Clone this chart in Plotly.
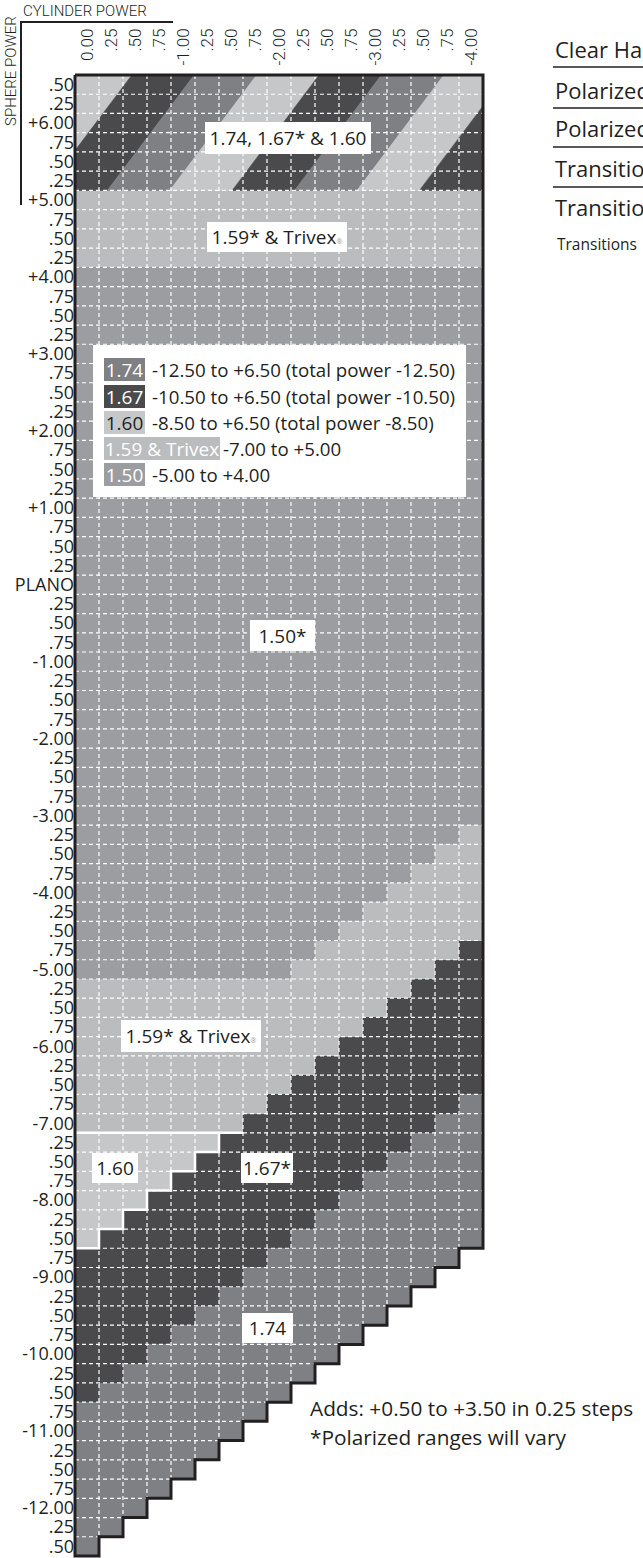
import re
import plotly.graph_objects as go

# ---------------- data ----------------
CYL_LABELS = ["0.00", ".25", ".50", ".75", "-1.00", ".25", ".50", ".75", "-2.00",
              ".25", ".50", ".75", "-3.00", ".25", ".50", ".75", "-4.00"]

SPHERE_LABELS = [".50", ".25", "+6.00", ".75", ".50", ".25",
                 "+5.00", ".75", ".50", ".25", "+4.00", ".75", ".50", ".25",
                 "+3.00", ".75", ".50", ".25", "+2.00", ".75", ".50", ".25",
                 "+1.00", ".75", ".50", ".25", "PLANO", ".25", ".50", ".75",
                 "-1.00", ".25", ".50", ".75", "-2.00", ".25", ".50", ".75",
                 "-3.00", ".25", ".50", ".75", "-4.00", ".25", ".50", ".75",
                 "-5.00", ".25", ".50", ".75", "-6.00", ".25", ".50", ".75",
                 "-7.00", ".25", ".50", ".75", "-8.00", ".25", ".50", ".75",
                 "-9.00", ".25", ".50", ".75", "-10.00", ".25", ".50", ".75",
                 "-11.00", ".25", ".50", ".75", "-12.00", ".25", ".50"]

# material runs per sphere row (A=1.50, B=1.59/Trivex, C=1.60, D=1.67, E=1.74,
# S=striped 1.74/1.67/1.60 band, .=not available)
ROW_RUNS = (["17S"] * 6 + ["17B"] * 4 + ["17A"] * 29 + [
    "16A1B", "15A2B", "14A3B", "13A4B", "12A5B", "11A6B", "10A6B1D", "9A6B2D",
    "14B3D", "13B4D", "12B5D", "11B6D", "10B7D", "9B8D", "8B8D1E", "7B8D2E",
    "6C8D3E", "5C8D4E", "4C8D5E", "3C8D6E", "2C8D7E", "1C8D8E",
    "8D8E1.", "7D8E2.", "6D8E3.", "5D8E4.", "4D8E5.", "3D8E6.", "2D8E7.", "1D8E8.",
    "8E9.", "7E10.", "6E11.", "5E12.", "4E13.", "3E14.", "2E15.", "1E16."])

CODES = ["A", "B", "C", "D", "E"]
MATERIALS = ["1.50", "1.59", "1.60", "1.67", "1.74"]
STRIPE_ORDER = ["1.60", "1.67", "1.74"]

REGION_LABELS = ["1.74, 1.67* & 1.60", "1.59* & Trivex", "1.50*", "1.59* & Trivex",
                 "1.60", "1.67*", "1.74"]
LEGEND_MATS = ["1.74", "1.67", "1.60", "1.59 & Trivex", "1.50"]
LEGEND_RANGES = ["-12.50 to +6.50 (total power -12.50)",
                 "-10.50 to +6.50 (total power -10.50)",
                 "-8.50 to +6.50 (total power -8.50)",
                 "-7.00 to +5.00",
                 "-5.00 to +4.00"]
SIDE_LIST = ["Clear Hard Resin", "Polarized Gray", "Polarized Brown",
             "Transitions Gray", "Transitions Brown"]
SIDE_NOTE = "Transitions   available in gray and brown"
NOTES = ["Adds: +0.50 to +3.50 in 0.25 steps", "*Polarized ranges will vary"]

# ---------------- styles ----------------
MAT_COLOR = {"1.50": "#9c9da0", "1.59": "#bbbcbe", "1.60": "#c6c7c9",
             "1.67": "#4a4a4d", "1.74": "#7e8083"}
SWATCH_COLOR = {"1.74": "#7e8083", "1.67": "#4a4a4d", "1.60": "#c6c7c9",
                "1.59 & Trivex": "#bbbcbe", "1.50": "#9c9da0"}
SWATCH_FONT = {"1.74": "white", "1.67": "white", "1.60": "#231f20",
               "1.59 & Trivex": "white", "1.50": "white"}
INK = "#231f20"
MAIN_FONT = "Open Sans, Noto Sans, sans-serif"
NARROW_FONT = "Roboto, Liberation Sans, sans-serif"

W, H = 643, 1558
NCOL, NROW = len(CYL_LABELS), len(SPHERE_LABELS)
GX0, GY0 = 75, 75           # grid top-left in px
CW = 24.0                   # column width px
GH = 1481.0
RH = GH / NROW              # row height px
PADL, PADT, PADR, PADB = 4, 4, 4, 2
PL = GX0 - PADL
PT = GY0 - PADT
PW = NCOL * CW + PADL + PADR
PH = GH + PADT + PADB


def dx(p):
    return (p - GX0) / CW


def dy(p):
    return (p - GY0) / RH


def paper_x(p):
    return (p - PL) / PW


def paper_y(p):
    return 1 - (p - PT) / PH


# ---------------- build grid ----------------
grid = []
for r in ROW_RUNS:
    row = []
    for n, code in re.findall(r"(\d+)([A-Z.])", r):
        row += [code] * int(n)
    grid.append(row)

z = [[CODES.index(c) if c in CODES else None for c in row] for row in grid]
lengths = [sum(1 for c in row if c != ".") for row in grid]

cs = []
n = len(MATERIALS)
for i, m in enumerate(MATERIALS):
    a, b = i / n, (i + 1) / n
    cs += [[a, MAT_COLOR[m]], [b, MAT_COLOR[m]]]

fig = go.Figure()
fig.add_trace(go.Heatmap(
    z=z, x=[c + 0.5 for c in range(NCOL)], y=[r + 0.5 for r in range(NROW)],
    colorscale=cs, zmin=-0.5, zmax=n - 0.5, showscale=False, hoverinfo="skip"))

# ---------------- striped band ----------------
n_stripe_rows = sum(1 for row in grid if row[0] == "S")
STRIPE_W = 2.6      # columns
STRIPE_B0 = 2.37    # first boundary at top edge (columns)
STRIPE_SKEW = 3.62  # horizontal shift across band (columns)


def clip(poly, x0, keep_greater):
    out = []
    for i in range(len(poly)):
        P, Q = poly[i], poly[(i + 1) % len(poly)]
        inP = P[0] >= x0 if keep_greater else P[0] <= x0
        inQ = Q[0] >= x0 if keep_greater else Q[0] <= x0
        if inP:
            out.append(P)
        if inP != inQ:
            t = (x0 - P[0]) / (Q[0] - P[0])
            out.append((x0, P[1] + t * (Q[1] - P[1])))
    return out


for k in range(0, 12):
    xl = STRIPE_B0 + (k - 1) * STRIPE_W
    xr = STRIPE_B0 + k * STRIPE_W
    poly = [(xl, 0), (xr, 0), (xr - STRIPE_SKEW, n_stripe_rows), (xl - STRIPE_SKEW, n_stripe_rows)]
    poly = clip(poly, 0, True)
    if len(poly) >= 3:
        poly = clip(poly, NCOL, False)
    if len(poly) < 3:
        continue
    col = MAT_COLOR[STRIPE_ORDER[k % 3]]
    fig.add_trace(go.Scatter(
        x=[p[0] for p in poly] + [poly[0][0]], y=[p[1] for p in poly] + [poly[0][1]],
        mode="lines", fill="toself", fillcolor=col, line=dict(color=col, width=0.6),
        hoverinfo="skip", showlegend=False))

# ---------------- dashed white grid ----------------
gx, gy = [], []
for j in range(1, NROW):
    e = min(lengths[j - 1], lengths[j])
    gx += [0, e, None]
    gy += [j, j, None]
for c in range(1, NCOL):
    end = 0
    while end < NROW and lengths[end] > c:
        end += 1
    gx += [c, c, None]
    gy += [0, end, None]
fig.add_trace(go.Scatter(x=gx, y=gy, mode="lines",
                         line=dict(color="white", width=1.2, dash="4px,3px"),
                         hoverinfo="skip", showlegend=False))

# ---------------- white outline of the 1.60 block ----------------
rows_c = [i for i, row in enumerate(grid) if "C" in row]
first, last = rows_c[0], rows_c[-1]
above = grid[first - 1]
nb = max(i for i, c in enumerate(above) if c == "B") + 1
wx, wy = [0, nb, None], [first, first, None]
for i in rows_c:
    nc = grid[i].count("C")
    wx += [nc, nc]
    wy += [i, i + 1]
wx += [0]
wy += [last + 1]
fig.add_trace(go.Scatter(x=wx, y=wy, mode="lines", line=dict(color="white", width=2.5),
                         hoverinfo="skip", showlegend=False))

# ---------------- black outline ----------------
bx, by = [0], [0]
for i, L in enumerate(lengths):
    bx += [L, L]
    by += [i, i + 1]
bx += [0, 0]
by += [NROW, 0]
fig.add_trace(go.Scatter(x=bx, y=by, mode="lines", line=dict(color=INK, width=3),
                         hoverinfo="skip", showlegend=False))

annotations = []
shapes = []

# column labels (rotated)
for c, lab in enumerate(CYL_LABELS):
    annotations.append(dict(x=c + 0.5, xref="x", y=paper_y(27), yref="paper",
                            text=lab, showarrow=False, textangle=-90,
                            xanchor="center", yanchor="top",
                            font=dict(family=NARROW_FONT, size=17, color=INK, weight=300)))

# header
annotations.append(dict(x=paper_x(21), y=paper_y(11), xref="paper", yref="paper",
                        text="CYLINDER POWER", showarrow=False, xanchor="left", yanchor="middle",
                        font=dict(family=NARROW_FONT, size=15, color=INK, weight=300)))
annotations.append(dict(x=paper_x(11), y=paper_y(71), xref="paper", yref="paper",
                        text="SPHERE POWER", showarrow=False, textangle=-90,
                        xanchor="center", yanchor="middle",
                        font=dict(family=NARROW_FONT, size=15, color=INK, weight=300)))
shapes.append(dict(type="line", xref="paper", yref="paper", x0=paper_x(21), x1=paper_x(173),
                   y0=paper_y(22), y1=paper_y(22), line=dict(color=INK, width=2)))
shapes.append(dict(type="line", xref="paper", yref="paper", x0=paper_x(21), x1=paper_x(21),
                   y0=paper_y(21), y1=paper_y(205), line=dict(color=INK, width=2)))

# region labels
REG_POS = [(288, 138, 166, 32), (277, 237, 140, 30), (282, 635, 65, 31),
           (191, 1036, 140, 32), (115, 1168, 46, 30), (267, 1168, 52, 30),
           (267.5, 1328, 51, 30)]
for lab, (cx, cy, bw, bh) in zip(REGION_LABELS, REG_POS):
    txt = lab
    if lab.endswith("Trivex"):
        txt = lab + "<span style='font-size:7px;fill:#9a9a9a'>®</span>"
    annotations.append(dict(x=dx(cx), y=dy(cy), xref="x", yref="y", text=txt,
                            showarrow=False, xanchor="center", yanchor="middle",
                            width=bw, height=bh, borderpad=0, borderwidth=0,
                            bgcolor="white", align="center", valign="middle",
                            font=dict(family=MAIN_FONT, size=19, color=INK)))

# legend box
shapes.append(dict(type="rect", xref="x", yref="y", x0=dx(93), x1=dx(466),
                   y0=dy(345), y1=dy(497), fillcolor="white", line=dict(width=0),
                   layer="above"))
LEG_Y = [369.5, 396.5, 422, 448, 474.5]
for mat, rng, cy in zip(LEGEND_MATS, LEGEND_RANGES, LEG_Y):
    sw = 116 if "Trivex" in mat else 41
    annotations.append(dict(x=dx(104), y=dy(cy), xref="x", yref="y", text=mat,
                            showarrow=False, xanchor="left", yanchor="middle",
                            width=sw, height=23, borderpad=0, borderwidth=0,
                            bgcolor=SWATCH_COLOR[mat], align="center", valign="middle",
                            font=dict(family=MAIN_FONT, size=19, color=SWATCH_FONT[mat])))
    tx = 104 + sw + (1 if "Trivex" in mat else 5)
    annotations.append(dict(x=dx(tx), y=dy(cy), xref="x", yref="y", text=rng,
                            showarrow=False, xanchor="left", yanchor="middle",
                            font=dict(family=MAIN_FONT, size=18.7, color=INK)))

# right side list (runs off the page edge)
SIDE_Y = [49, 90, 128, 168, 207]
for t, cy in zip(SIDE_LIST, SIDE_Y):
    annotations.append(dict(x=paper_x(553), y=paper_y(cy), xref="paper", yref="paper",
                            text=t, showarrow=False, xanchor="left", yanchor="middle",
                            font=dict(family=MAIN_FONT, size=22, color=INK)))
for ly in [67, 108, 147, 187]:
    shapes.append(dict(type="line", xref="paper", yref="paper", x0=paper_x(553), x1=paper_x(700),
                       y0=paper_y(ly), y1=paper_y(ly), line=dict(color=INK, width=1.5)))
annotations.append(dict(x=paper_x(555), y=paper_y(244), xref="paper", yref="paper",
                        text=SIDE_NOTE, showarrow=False, xanchor="left", yanchor="middle",
                        font=dict(family=MAIN_FONT, size=15.5, color=INK)))

# notes
for t, cy in zip(NOTES, [1408, 1437]):
    annotations.append(dict(x=paper_x(308), y=paper_y(cy), xref="paper", yref="paper",
                            text=t, showarrow=False, xanchor="left", yanchor="middle",
                            font=dict(family=MAIN_FONT, size=20.8, color=INK)))

fig.update_layout(
    width=W, height=H,
    margin=dict(l=PL, r=W - PL - PW, t=PT, b=H - PT - PH, pad=0),
    paper_bgcolor="white", plot_bgcolor="white",
    showlegend=False,
    xaxis=dict(range=[-PADL / CW, NCOL + PADR / CW], showgrid=False, zeroline=False,
               showticklabels=False, ticks="", showline=False, fixedrange=True),
    yaxis=dict(range=[NROW + PADB / RH, -PADT / RH], showgrid=False, zeroline=False,
               tickmode="array", tickvals=[r + 0.5 for r in range(NROW)], ticktext=SPHERE_LABELS,
               ticks="", showline=False, ticklabelstandoff=-4,
               tickfont=dict(family=MAIN_FONT, size=18, color=INK), fixedrange=True),
    annotations=annotations, shapes=shapes,
)

fig.write_html("out.html", config={"displayModeBar": False},
               post_script="document.body.style.margin='0';")
